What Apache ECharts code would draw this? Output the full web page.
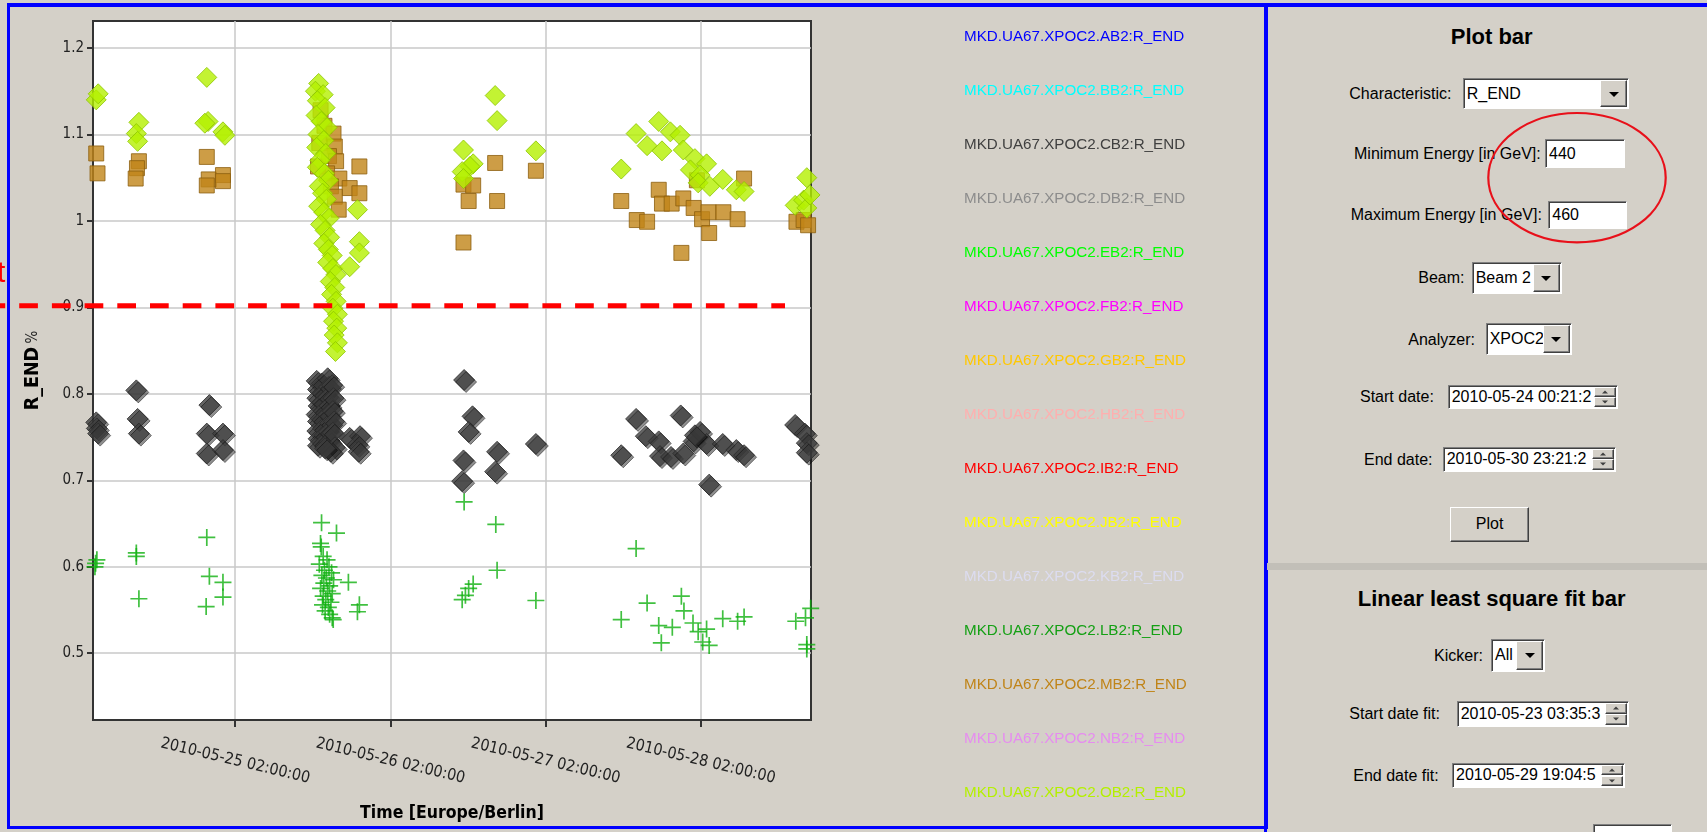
<!DOCTYPE html>
<html>
<head>
<meta charset="utf-8">
<script src="https://cdn.jsdelivr.net/npm/echarts@6/dist/echarts.min.js"></script>
<style>
  html, body { margin:0; padding:0; width:1707px; height:832px; overflow:hidden; background:#d4d0c8;
    font-family:"Liberation Sans", Arial, sans-serif; }
  #chart { position:absolute; left:0; top:0; width:1707px; height:832px; z-index:5; pointer-events:none; }
  .frame { position:absolute; box-sizing:border-box; border:3px solid #0000ff; border-top-width:4px; }
  .lbl { position:absolute; font-size:16px; color:#000; white-space:nowrap; line-height:16px; transform:translateY(-50%); }
  .title { position:absolute; font-size:22px; font-weight:bold; color:#000; white-space:nowrap; transform:translate(-50%,-50%); }
  .field { position:absolute; box-sizing:border-box; background:#fff; border:1px solid; border-color:#808080 #ffffff #ffffff #808080;
    box-shadow: inset 1px 1px 0 #404040; font-size:16px; line-height:16px; color:#000; overflow:hidden; white-space:nowrap;
    display:flex; align-items:center; padding-left:3px; }
  .btn { position:absolute; box-sizing:border-box; background:#d4d0c8; border:1px solid; border-color:#ffffff #404040 #404040 #ffffff;
    box-shadow: inset -1px -1px 0 #808080; }
  .tri { position:absolute; left:50%; top:50%; width:0; height:0; transform:translate(-50%,-40%);
    border-left:5px solid transparent; border-right:5px solid transparent; border-top:5px solid #000; }
  .triu { position:absolute; left:50%; top:50%; width:0; height:0; transform:translate(-50%,-50%);
    border-left:3px solid transparent; border-right:3px solid transparent; border-bottom:3px solid #404040; }
  .trid { position:absolute; left:50%; top:50%; width:0; height:0; transform:translate(-50%,-50%);
    border-left:3px solid transparent; border-right:3px solid transparent; border-top:3px solid #404040; }
</style>
</head>
<body>
<!-- window frames -->
<div class="frame" style="left:7px;top:3px;width:1261px;height:826px;"></div>
<div class="frame" style="left:1264px;top:3px;width:520px;height:900px;"></div>
<div style="position:absolute;left:1267px;top:563px;width:440px;height:7px;background:#c2bfb8;"></div>
<div id="panel"></div>
<div id="chart"></div>
<script>
// ---- series readings: [hours since 2010-05-24 00:00, R_END %] ----
const seriesNames = ['AB2','BB2','CB2','DB2','EB2','FB2','GB2','HB2','IB2','JB2','KB2','LB2','MB2','NB2','OB2']
  .map(k => 'MKD.UA67.XPOC2.' + k + ':R_END');
const seriesColors = ['#0000ff','#00ffff','#404040','#8c8c8c','#00ff00','#ff00ff','#ffc800','#ffafaf',
  '#ff0000','#ffff00','#dcdcf0','#14a014','#c08418','#e68cf0','#b4f000'];

const cb2Values = [
  [4.5,0.767],[4.6,0.760],[4.8,0.754],
  [10.7,0.804],[10.9,0.771],[11.1,0.754],
  [22.0,0.787],[21.6,0.754],[24.1,0.754],[21.6,0.731],[24.1,0.735],
  [38.6,0.815],[38.8,0.805],[38.7,0.795],[38.9,0.786],[38.6,0.776],[38.8,0.768],[38.7,0.757],[38.9,0.748],[38.8,0.740],
  [39.4,0.812],[39.6,0.800],[39.5,0.790],[39.7,0.780],[39.5,0.770],[39.6,0.760],[39.8,0.752],[39.6,0.742],
  [40.3,0.818],[40.5,0.808],[40.4,0.796],[40.6,0.786],[40.4,0.776],[40.7,0.766],[40.5,0.756],[40.6,0.745],
  [41.0,0.810],[41.2,0.795],[41.1,0.780],[41.3,0.768],[41.1,0.755],[41.4,0.738],[40.8,0.733],[39.9,0.737],
  [43.7,0.749],[45.3,0.751],[44.9,0.741],[45.1,0.733],
  [61.4,0.816],[62.7,0.774],[62.1,0.756],[61.3,0.723],[61.1,0.699],[66.5,0.733],[66.2,0.710],[72.5,0.742],
  [85.7,0.729],[88.0,0.771],[89.5,0.751],[91.5,0.745],[91.7,0.728],[93.4,0.727],[94.9,0.775],[95.3,0.731],
  [96.9,0.745],[97.9,0.756],[98.9,0.742],[101.4,0.742],[103.5,0.735],[104.7,0.729],[99.3,0.695],[97.1,0.752],
  [112.6,0.764],[114.1,0.754],[114.4,0.743],[114.4,0.732]
];

const lb2Values = [
  [4.6,0.608],[4.4,0.604],[4.3,0.600],
  [10.7,0.616],[10.7,0.612],[11.1,0.563],
  [21.6,0.634],[22.0,0.589],[24.1,0.582],[24.1,0.565],[21.5,0.554],
  [39.35,0.651],[41.66,0.639],[39.19,0.627],[39.3,0.623],[39.6,0.612],[40.2,0.608],[39.0,0.603],[40.5,0.600],
  [39.8,0.596],[40.9,0.593],[39.4,0.590],[40.1,0.587],[41.2,0.585],[39.7,0.581],[40.6,0.578],[39.2,0.575],
  [40.3,0.572],[41.0,0.569],[39.6,0.566],[40.0,0.562],[40.8,0.559],[39.5,0.556],[40.4,0.553],[39.9,0.549],
  [40.6,0.545],[41.15,0.539],[41.0,0.541],[43.5,0.582],[45.2,0.556],[44.9,0.548],
  [61.4,0.675],[66.3,0.649],[66.5,0.596],[62.8,0.580],[62.1,0.575],[61.6,0.567],[61.1,0.562],[72.5,0.561],
  [88.0,0.621],[85.7,0.539],[89.7,0.558],[95.0,0.566],[95.4,0.549],[91.5,0.532],[93.6,0.530],[91.9,0.512],
  [96.8,0.535],[97.6,0.525],[98.9,0.528],[98.3,0.513],[99.3,0.509],[101.4,0.540],[103.7,0.537],[104.7,0.542],
  [112.7,0.537],[114.2,0.541],[114.4,0.510],[114.4,0.505],[115.0,0.552]
];

const mb2Values = [
  [4.5,1.078],[4.7,1.055],
  [11.1,1.069],[10.8,1.061],[10.6,1.049],
  [21.6,1.074],[21.9,1.048],[21.6,1.041],[24.1,1.053],[24.1,1.046],
  [39.2,1.128],[39.8,1.110],[41.2,1.101],[39.0,1.090],[41.4,1.086],[40.5,1.075],[41.6,1.069],[38.8,1.063],
  [40.2,1.055],[42.1,1.049],[40.8,1.040],[43.7,1.038],[45.2,1.063],[45.2,1.032],[41.4,1.028],[42.0,1.013],
  [61.3,1.042],[62.8,1.041],[62.1,1.023],[61.3,0.975],[66.2,1.067],[66.5,1.023],[72.5,1.058],
  [85.7,1.023],[91.5,1.036],[92.0,1.020],[88.1,1.001],[89.7,0.999],[93.5,1.020],[95.3,1.026],[96.9,1.015],
  [98.2,1.002],[99.2,1.010],[101.5,1.010],[99.3,0.986],[103.7,1.002],[104.7,1.049],[95.0,0.963],[97.4,1.047],
  [112.8,0.999],[113.9,1.001],[114.6,0.995]
];

const ob2Values = [
  [4.5,1.140],[4.8,1.147],
  [11.1,1.114],[10.7,1.101],[10.9,1.092],
  [21.6,1.166],[21.8,1.115],[21.3,1.113],[24.1,1.103],[24.4,1.099],
  [38.9,1.159],[38.4,1.150],[39.6,1.146],[38.7,1.139],[39.9,1.131],[38.5,1.122],[39.3,1.115],[40.2,1.108],
  [38.8,1.100],[39.7,1.093],[38.6,1.085],[40.0,1.078],[39.1,1.070],[38.7,1.062],[39.8,1.055],[40.4,1.047],
  [39.0,1.040],[39.5,1.032],[40.1,1.025],[38.9,1.017],[39.7,1.010],[40.5,1.003],[39.2,0.996],
  [39.9,0.989],[40.6,0.981],[39.7,0.974],[40.4,0.967],[41.0,0.960],[40.3,0.952],[41.1,0.945],[41.6,0.938],
  [40.7,0.930],[41.4,0.923],[40.9,0.915],[41.6,0.907],[41.1,0.899],[41.8,0.892],[41.2,0.884],[41.7,0.876],
  [41.3,0.868],[41.8,0.859],[41.5,0.849],
  [44.9,1.013],[45.2,0.976],[45.2,0.963],[43.7,0.947],
  [61.3,1.082],[62.8,1.066],[62.3,1.063],[61.1,1.057],[61.3,1.049],[66.2,1.145],[66.5,1.116],[72.5,1.081],
  [85.7,1.060],[88.0,1.101],[89.7,1.087],[91.5,1.115],[92.0,1.081],[93.3,1.103],[94.8,1.099],[95.3,1.082],
  [97.1,1.072],[96.4,1.059],[98.9,1.066],[97.9,1.053],[97.6,1.044],[99.4,1.040],[101.4,1.048],[103.5,1.036],
  [104.7,1.034],
  [112.6,1.018],[113.9,1.024],[114.4,1.050],[114.4,1.015],[114.9,1.030]
];

// axis ticks
const xTickHours = [26, 50, 74, 98];
const xTickLabels = ['2010-05-25 02:00:00', '2010-05-26 02:00:00', '2010-05-27 02:00:00', '2010-05-28 02:00:00'];
const yTickValues = [0.5, 0.6, 0.7, 0.8, 0.9, 1.0, 1.1, 1.2];
const thresholdValue = 0.902;

const seriesData = { 2: cb2Values, 11: lb2Values, 12: mb2Values, 14: ob2Values };
const plusPath = 'path://M0,7.2H16V8.8H0Z M7.2,0H8.8V16H7.2Z';
const markStyle = {
  2:  { symbol:'diamond', symbolSize:21, itemStyle:{ color:'#3e3e3e', borderColor:'#2b2b2b', borderWidth:1,
        shadowColor:'rgba(0,0,0,0.55)', shadowOffsetX:2, shadowOffsetY:2, shadowBlur:0 } },
  11: { symbol:plusPath, symbolSize:17, itemStyle:{ color:'#10b010' } },
  12: { symbol:'rect', symbolSize:15, itemStyle:{ color:'#c08418', borderColor:'#8c5f0f', borderWidth:1 } },
  14: { symbol:'diamond', symbolSize:20, itemStyle:{ color:'#b4f000', borderColor:'#8cc400', borderWidth:1 } }
};

const chartFont = '"DejaVu Sans Condensed", "Liberation Sans Narrow", sans-serif';
const chart = echarts.init(document.getElementById('chart'), null, { renderer:'canvas' });

const series = seriesNames.map((name, i) => Object.assign({
  name, type:'scatter', data: seriesData[i] || [], color: seriesColors[i],
  symbol:'diamond', symbolSize:20, emphasis:{ disabled:true }, animation:false
}, markStyle[i] || {}));

chart.setOption({
  backgroundColor:'transparent',
  animation:false,
  grid:{ left:93, top:21, width:718, height:699, show:true, backgroundColor:'#ffffff',
         borderColor:'#333333', borderWidth:2, containLabel:false },
  legend:{
    orient:'vertical', left:959, top:26.5, padding:0, itemWidth:0, itemHeight:20, itemGap:34,
    icon:'rect', selectedMode:false,
    itemStyle:{ opacity:0, borderWidth:0, shadowBlur:0, shadowOffsetX:0, shadowOffsetY:0 },
    textStyle:{ fontFamily:'"Liberation Sans", Arial, sans-serif', fontSize:15.2 },
    data: seriesNames.map((name, i) => ({ name, textStyle:{ color: seriesColors[i] } }))
  },
  xAxis:{
    type:'value', min:4.0, max:115.05,
    name:'Time [Europe/Berlin]', nameLocation:'middle', nameGap:84,
    nameTextStyle:{ fontFamily:chartFont, fontWeight:'bold', fontSize:17.5, color:'#000' },
    axisLine:{ show:true, lineStyle:{ color:'#333', width:2 } },
    axisTick:{ show:true, length:7, lineStyle:{ color:'#333', width:2 }, customValues:xTickHours },
    axisLabel:{ customValues:xTickHours, rotate:-13.5, align:'center', verticalAlign:'middle', margin:41,
      fontFamily:chartFont, fontSize:16, color:'#222',
      formatter: v => xTickLabels[xTickHours.indexOf(Math.round(v))] || '' },
    splitLine:{ show:true, lineStyle:{ color:'#c8c8c8', width:1.5 } }
  },
  yAxis:{
    type:'value', min:0.4228, max:1.2312,
    name:'{b|R_END} {n|%}', nameLocation:'middle', nameRotate:90, nameGap:50,
    nameTextStyle:{ rich:{ b:{ fontFamily:chartFont, fontWeight:'bold', fontSize:19.5, color:'#000' },
                           n:{ fontFamily:chartFont, fontSize:15, color:'#222' } } },
    axisLine:{ show:true, lineStyle:{ color:'#333', width:2 } },
    axisTick:{ show:true, length:6, lineStyle:{ color:'#333', width:2 }, customValues:yTickValues },
    axisLabel:{ customValues:yTickValues, margin:9, fontFamily:chartFont, fontSize:15, color:'#222',
      formatter: v => String(Math.round(v * 10) / 10) },
    splitLine:{ show:true, lineStyle:{ color:'#c8c8c8', width:1.5 } }
  },
  series
});

// threshold annotation and highlight ring
const yTh = chart.convertToPixel({ yAxisIndex:0 }, thresholdValue);
chart.setOption({
  graphic:[
    { type:'line', z:100, shape:{ x1:0, y1:yTh, x2:785, y2:yTh },
      style:{ stroke:'#ff0000', lineWidth:5, lineDash:[18.7, 14], lineDashOffset:13.5 } },
    { type:'text', z:100, x:-3, y:289, style:{ text:'t', fill:'#ff0000', font:'30px "Liberation Sans", Arial, sans-serif',
      textVerticalAlign:'bottom' } },
    { type:'ellipse', z:100, shape:{ cx:1577, cy:177.7, rx:88.7, ry:64.7 },
      style:{ fill:'none', stroke:'#e8101a', lineWidth:2.2 } }
  ]
});

// ---- control panel ----
const panel = document.getElementById('panel');
function el(cls, style, html) {
  const d = document.createElement('div'); d.className = cls; d.setAttribute('style', style);
  if (html !== undefined) d.innerHTML = html; panel.appendChild(d); return d;
}
function label(text, x, cy) { el('lbl', `left:${x}px;top:${cy}px;`, text); }
function box(x1, y1, x2, y2) { return `left:${x1}px;top:${y1}px;width:${x2 - x1}px;height:${y2 - y1}px;`; }
function combo(text, x1, y1, x2, y2, bw) {
  el('field', box(x1, y1, x2, y2), text);
  const b = el('btn', box(x2 - bw - 2, y1 + 2, x2 - 2, y2 - 2));
  b.innerHTML = '<div class="tri"></div>';
}
function textField(text, x1, y1, x2, y2) { el('field', box(x1, y1, x2, y2), text); }
function spinner(text, x1, y1, x2, y2) {
  el('field', box(x1, y1, x2, y2), text);
  const h = (y2 - y1 - 4) / 2;
  const u = el('btn', box(x2 - 24, y1 + 2, x2 - 2, y1 + 2 + h)); u.innerHTML = '<div class="triu"></div>';
  const d = el('btn', box(x2 - 24, y1 + 2 + h, x2 - 2, y2 - 2)); d.innerHTML = '<div class="trid"></div>';
}

el('title', 'left:1491.7px;top:36.7px;', 'Plot bar');
label('Characteristic:', 1349.3, 94);  combo('R_END', 1462.7, 78.3, 1629.3, 109.3, 27);
label('Minimum Energy [in GeV]:', 1354, 154); textField('440', 1545, 139.3, 1625, 168.3);
label('Maximum Energy [in GeV]:', 1350.7, 215); textField('460', 1548.3, 200.7, 1626.7, 229.3);
label('Beam:', 1418.3, 278.3); combo('Beam 2', 1471.7, 261.7, 1561.7, 294, 27);
label('Analyzer:', 1408.3, 340); combo('XPOC2', 1485.7, 323.3, 1571.7, 355, 27);
label('Start date:', 1360, 397.3); spinner('2010-05-24 00:21:2', 1447.7, 385, 1618.3, 409.3);
label('End date:', 1364, 460); spinner('2010-05-30 23:21:2', 1442.7, 446.7, 1616, 471.7);
el('btn', box(1450, 507.3, 1529.3, 541.7) + 'display:flex;align-items:center;justify-content:center;font-size:16px;', 'Plot');
el('title', 'left:1491.7px;top:599px;', 'Linear least square fit bar');
label('Kicker:', 1434, 656); combo('All', 1491, 639.3, 1545, 671.7, 27);
label('Start date fit:', 1349.3, 714); spinner('2010-05-23 03:35:3', 1456.7, 700.7, 1629.3, 726.7);
label('End date fit:', 1353.3, 775.7); spinner('2010-05-29 19:04:5', 1452, 762.7, 1625, 788.3);
textField('', 1593, 824, 1672, 852);
</script>
</body>
</html>
